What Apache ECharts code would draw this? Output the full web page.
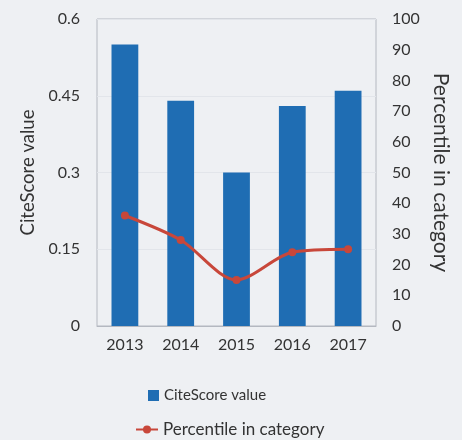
<!DOCTYPE html>
<html><head><meta charset="utf-8">
<script src="https://cdn.jsdelivr.net/npm/echarts@6/dist/echarts.min.js"></script>
<style>html,body{margin:0;padding:0;background:#eef0f3;}#c{width:462px;height:440px;}</style>
</head><body><div id="c"></div>
<script>
const years = ['2013','2014','2015','2016','2017'];
const citeScore = [0.55, 0.44, 0.30, 0.43, 0.46];
const percentile = [36, 28, 15, 24, 25];
const leftTicks = [0, 0.15, 0.3, 0.45, 0.6];

const FONT = 'Lato';
const chart = echarts.init(document.getElementById('c'));
chart.setOption({
  backgroundColor: '#eef0f3',
  textStyle: {fontFamily: FONT},
  grid: {left: 97, right: 86, top: 19, bottom: 114, show: true, borderColor: '#b4b8c0', borderWidth: 1},
  legend: [{
    orient: 'vertical', left: 143, top: 383, itemGap: 18,
    textStyle: {fontFamily: FONT, fontSize: 15, color: '#333'},
    itemWidth: 11, itemHeight: 11,
    data: [{name: 'CiteScore value', icon: 'rect'}]
  }, {
    orient: 'vertical', left: 130, top: 416, itemGap: 18,
    textStyle: {fontFamily: FONT, fontSize: 17, color: '#333'},
    itemWidth: 22, itemHeight: 10,
    data: [{name: 'Percentile in category'}]
  }],
  xAxis: {
    type: 'category', data: years,
    axisTick: {show: false},
    axisLine: {lineStyle: {color: '#b4b8c0'}},
    axisLabel: {fontFamily: FONT, fontSize: 16, color: '#333', margin: 11}
  },
  yAxis: [{
    type: 'value', min: 0, max: 0.6, interval: 0.15,
    name: 'CiteScore value', nameLocation: 'middle', nameGap: 58,
    nameTextStyle: {fontFamily: FONT, fontSize: 18.5, color: '#333'},
    axisLabel: {fontFamily: FONT, fontSize: 16, color: '#333', margin: 17,
      formatter: v => { const t = leftTicks.find(x => Math.abs(x - v) < 1e-9); return t === undefined ? '' : String(t); }},
    splitLine: {lineStyle: {color: '#e2e5ea'}},
    axisLine: {show: false}, axisTick: {show: false}
  }, {
    type: 'value', min: 0, max: 100, interval: 10, position: 'right',
    name: 'Percentile in category', nameLocation: 'middle', nameGap: 52, nameRotate: -90,
    nameTextStyle: {fontFamily: FONT, fontSize: 21, color: '#333'},
    axisLabel: {fontFamily: FONT, fontSize: 16, color: '#333', margin: 16},
    splitLine: {show: false}, axisLine: {show: false}, axisTick: {show: false}
  }],
  series: [{
    name: 'CiteScore value', type: 'bar', data: citeScore, barWidth: '48%',
    itemStyle: {color: '#1f6db3'}
  }, {
    name: 'Percentile in category', type: 'line', yAxisIndex: 1, data: percentile,
    smooth: 0.3, symbol: 'circle', symbolSize: 8,
    lineStyle: {color: '#c8473a', width: 3},
    itemStyle: {color: '#c8473a'}
  }]
});
</script></body></html>
